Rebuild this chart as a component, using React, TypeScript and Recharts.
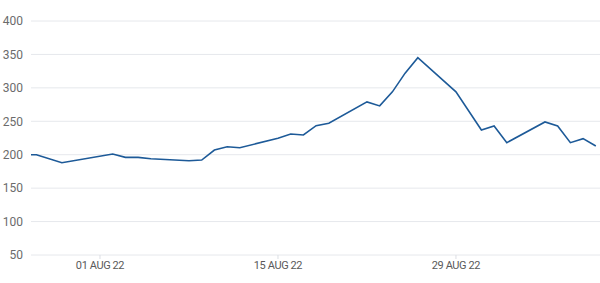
import { LineChart, Line, XAxis, YAxis, CartesianGrid } from "recharts";

// daily closes (trading days only)
const dates = [
  "2022-07-26", "2022-07-27", "2022-07-29", "2022-08-02", "2022-08-03",
  "2022-08-04", "2022-08-05", "2022-08-08", "2022-08-09", "2022-08-10",
  "2022-08-11", "2022-08-12", "2022-08-15", "2022-08-16", "2022-08-17",
  "2022-08-18", "2022-08-19", "2022-08-22", "2022-08-23", "2022-08-24",
  "2022-08-25", "2022-08-26", "2022-08-29", "2022-08-31", "2022-09-01",
  "2022-09-02", "2022-09-05", "2022-09-06", "2022-09-07", "2022-09-08",
  "2022-09-09",
];
const prices = [
  200, 200, 188, 201, 196,
  196, 194, 191, 192, 207,
  212, 210.5, 224.6, 231, 229.5,
  243.5, 247, 279, 273, 294,
  322, 345, 294, 237, 243,
  218, 249, 243, 218, 224,
  213,
];
const tickDates = ["2022-08-01", "2022-08-15", "2022-08-29"];
const yTicks = [50, 100, 150, 200, 250, 300, 350, 400];

const DAY = 86400000;
const MONTHS = ["JAN", "FEB", "MAR", "APR", "MAY", "JUN", "JUL", "AUG", "SEP", "OCT", "NOV", "DEC"];

const data = dates.map((d, i) => ({ t: Date.parse(d + "T00:00:00Z"), price: prices[i] }));
const xTicks = tickDates.map((d) => Date.parse(d + "T00:00:00Z"));
const origin = xTicks[0];

function fmtDate(t: number) {
  const d = new Date(t);
  const dd = String(d.getUTCDate()).padStart(2, "0");
  const yy = String(d.getUTCFullYear()).slice(2);
  return `${dd} ${MONTHS[d.getUTCMonth()]} ${yy}`;
}

export default function App() {
  return (
    <div style={{ position: "absolute", left: 0, top: 0, background: "#fff" }}>
      <LineChart
        width={600}
        height={283}
        data={data}
        margin={{ top: 21, right: 0, bottom: 0, left: 0 }}
      >
        <CartesianGrid vertical={false} stroke="#e6e8ec" strokeWidth={1} />
        <XAxis
          dataKey="t"
          type="number"
          scale="time"
          domain={[origin - 5.427 * DAY, origin + 39.33 * DAY]}
          allowDataOverflow
          ticks={xTicks}
          tickFormatter={fmtDate}
          axisLine={false}
          tickSize={4}
          tickMargin={2}
          tickLine={{ stroke: "#dcdfe4" }}
          tick={{ fill: "#5a5a5a", fontSize: 11, fontFamily: "Roboto", letterSpacing: -0.4 }}
          height={28}
        />
        <YAxis
          type="number"
          domain={[50, 400]}
          ticks={yTicks}
          width={31}
          axisLine={false}
          tickLine={false}
          tickSize={6}
          tickMargin={2}
          tick={{ fill: "#6b6b6b", fontSize: 12, fontFamily: "Roboto" }}
        />
        <Line
          type="linear"
          dataKey="price"
          stroke="#1d5a98"
          strokeWidth={1.6}
          dot={false}
          isAnimationActive={false}
        />
      </LineChart>
    </div>
  );
}
